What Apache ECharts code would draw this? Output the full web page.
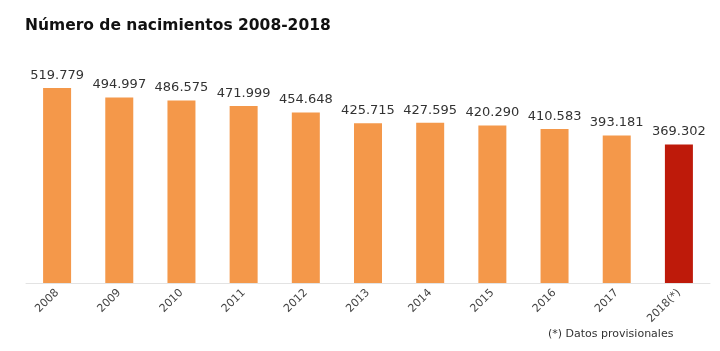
<!DOCTYPE html>
<html>
<head>
<meta charset="utf-8">
<script src="https://cdn.jsdelivr.net/npm/echarts@6/dist/echarts.min.js"></script>
<style>
  html, body { margin: 0; padding: 0; background: #fff; }
  #chart { width: 720px; height: 351px; }
</style>
</head>
<body>
<div id="chart"></div>
<script>
// datos del gráfico
const years = ['2008', '2009', '2010', '2011', '2012', '2013', '2014', '2015', '2016', '2017', '2018(*)']
const births = [519779, 494997, 486575, 471999, 454648, 425715, 427595, 420290, 410583, 393181, 369302]
const provisional = [false, false, false, false, false, false, false, false, false, false, true]

const orange = '#F4984A'
const red = '#BE1A0A'
const font = 'DejaVu Sans'

// formato español: separador de miles con punto
function fmt(v) {
  return String(v).replace(/\B(?=(\d{3})+(?!\d))/g, '.')
}

const chart = echarts.init(document.getElementById('chart'))
chart.setOption({
  animation: false,
  title: [
    {
      text: 'Número de nacimientos 2008-2018',
      left: 20,
      top: 13,
      textStyle: { fontFamily: font, fontSize: 15.5, fontWeight: 'bold', color: '#111' }
    },
    {
      text: '(*) Datos provisionales',
      left: 543,
      top: 324,
      textStyle: { fontFamily: font, fontSize: 11, fontWeight: 'normal', color: '#333' }
    }
  ],
  grid: { left: 26, right: 10, top: 58, bottom: 68, containLabel: false },
  xAxis: {
    type: 'category',
    data: years,
    axisLine: { lineStyle: { color: '#e3e3e3' } },
    axisTick: { show: false },
    axisLabel: {
      rotate: 45,
      interval: 0,
      margin: 8,
      fontFamily: font,
      fontSize: 11,
      color: '#444'
    }
  },
  yAxis: {
    type: 'value',
    min: 0,
    max: 600000,
    show: false,
    splitLine: { show: false }
  },
  series: [
    {
      type: 'bar',
      barWidth: 28,
      data: births.map((v, i) => ({
        value: v,
        itemStyle: { color: provisional[i] ? red : orange }
      })),
      label: {
        show: true,
        position: 'top',
        distance: 6,
        formatter: (p) => fmt(p.value),
        fontFamily: font,
        fontSize: 13,
        color: '#333'
      }
    }
  ]
})
</script>
</body>
</html>
